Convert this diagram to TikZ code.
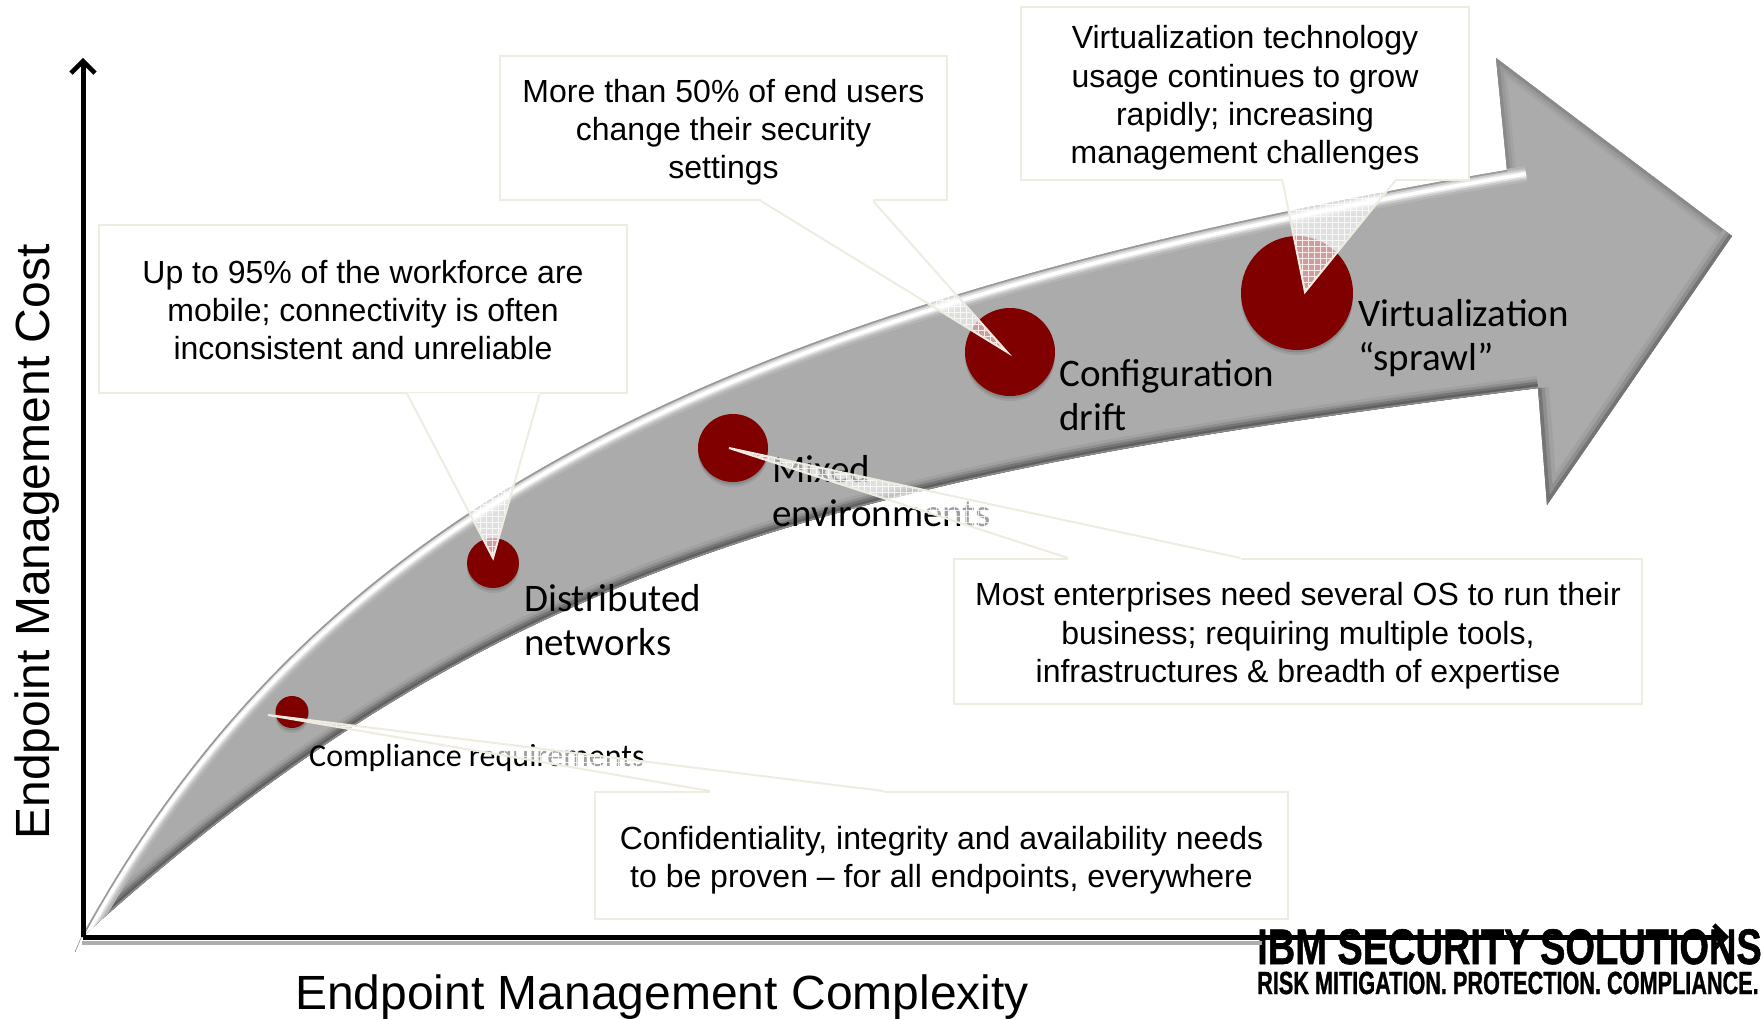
\documentclass[tikz,border=0pt]{standalone}
\usepackage{fontspec}
\setmainfont{Liberation Sans}[BoldFeatures={FakeBold=1.2}]
\newfontfamily\labfont{Carlito}
\usetikzlibrary{calc,arrows.meta}
\definecolor{redball}{HTML}{800000}
\definecolor{calloutline}{HTML}{EEECE1}
\newcommand{\lift}[1]{\rule{0pt}{#1pt}}
\tikzset{
  x=1pt,y=-1pt,
  upperedge/.style={insert path={(75,952) -- (81,938) .. controls (311,516) and (707,306) .. (1507,170)}},
  upperstripe/.style={insert path={(81,938) .. controls (311,516) and (707,306) .. (1507,170) -- (1526,167)}},
  loweredge/.style={insert path={(1538,388) .. controls (838,476) and (495,563) .. (81,938) -- (75,952)}},
  headupper/.style={insert path={(1507,170) -- (1496,58) -- (1732,236)}},
  headlower/.style={insert path={(1732,236) -- (1547,505) -- (1538,388)}},
  arrowshape/.style={insert path={(75,952) -- (81,938) .. controls (311,516) and (707,306) .. (1507,170) -- (1496,58) -- (1732,236) -- (1547,505) -- (1538,388) .. controls (838,476) and (495,563) .. (81,938) -- cycle}},
  callout/.style={draw=calloutline,line width=2pt,fill=white,inner sep=0pt,align=center,font=\fontsize{32}{38.3}\selectfont},
  wedgeedge/.style={draw=calloutline,line width=2pt,line join=miter},
  lab/.style={inner sep=0pt,anchor=base west,align=left,font=\labfont\fontsize{39}{43.5}\selectfont},
  axis/.style={line width=5pt,-{Straight Barb[length=12pt,width=24pt,line width=4.5pt]}},
  axislabel/.style={inner sep=0pt,font=\fontsize{48}{52}\selectfont}
}
\newcommand{\ballat}[5]{%
  \fill[black,opacity=.08] ($(#1,#2)+(0,5)$) ellipse[x radius=#3,y radius=#4];
  \fill[black,opacity=.12] ($(#1,#2)+(0,2.5)$) ellipse[x radius=#3,y radius=#4];
  \fill[redball] (#1,#2) ellipse[x radius=#3,y radius=#4];
  \coordinate (#5) at (#1,#2);
}
\newcommand{\pointer}[4]{%
  % #1 box, #2 tip, #3 base start, #4 base end
  \begin{scope}
    \clip (#3) -- (#2) -- (#4) -- cycle;
    \fill[white,opacity=.62] (#3) -- (#2) -- (#4) -- cycle;
    \draw[white,line width=.7pt,opacity=.8] (0,0) grid[step=6pt] (1764,1019);
  \end{scope}
  \draw[white,line width=3pt] (#3) -- (#4);
  \draw[wedgeedge] (#3) -- (#2) -- (#4);
}
\begin{document}
\begin{tikzpicture}
\useasboundingbox (0,0) rectangle (1764,1019);
% big arrow
\begin{scope}
  \clip[arrowshape];
  \fill[arrowshape,fill=black!33];
  % head bevel
  \draw[headupper,draw=black!36,line width=18pt];
  \draw[headupper,draw=black!40,line width=12pt];
  \draw[headupper,draw=black!46,line width=6pt];
  \draw[headlower,draw=black!37,line width=22pt];
  \draw[headlower,draw=black!44,line width=14pt];
  \draw[headlower,draw=black!54,line width=7pt];
  % lower edge
  \draw[loweredge,draw=black!37,line width=24pt];
  \draw[loweredge,draw=black!44,line width=18pt];
  \draw[loweredge,draw=black!54,line width=13pt];
  \draw[loweredge,draw=black!62,line width=8pt];
  \draw[loweredge,draw=black!45,line width=3pt];
  % upper highlight
  \begin{scope}[yshift=-7pt]
    \draw[upperstripe,draw=black!29,line width=16pt];
    \draw[upperstripe,draw=black!21,line width=11pt];
    \draw[upperstripe,draw=black!10,line width=7pt];
    \draw[upperstripe,draw=white,line width=3.6pt];
  \end{scope}
  \draw[upperedge,draw=black!40,line width=3pt];
\end{scope}
% logo
\node[inner sep=0pt,anchor=base west,font=\fontsize{50}{50}\selectfont\bfseries] (logoa) at (1257,964) {\scalebox{.76}[1]{IBM SECURITY SOLUTIONS}};
\node[inner sep=0pt,anchor=base west,font=\fontsize{32}{32}\selectfont\bfseries] (logob) at (1257,994) {\scalebox{.677}[1]{RISK MITIGATION. PROTECTION. COMPLIANCE.}};
% axes
\draw[black!32,line width=3.5pt] (82,943) -- (1262,943);
\coordinate (axo) at (83,937);
\coordinate (axy) at (83,58);
\coordinate (axx) at (1729,937);
\draw[axis] (axo) -- (axy);
\draw[axis] (axo) -- (axx);
\node[axislabel,rotate=90] (ylab) at (37,542) {Endpoint Management Cost};
\node[axislabel,anchor=base] (xlab) at (662,1009) {Endpoint Management Complexity};
% balls
\ballat{292}{712}{16.5}{16}{ba}
\ballat{493}{563}{26}{25}{bb}
\ballat{733}{448}{35}{34}{bc}
\ballat{1010}{352}{45}{44}{bd}
\ballat{1297}{293}{56}{57}{be}
% labels
\node[lab] (la) at (309,766) {\fontsize{32}{38}\selectfont Compliance requirements};
\node[lab] (lb) at (524,655) {Distributed\\networks};
\node[lab] (lc) at (772,526) {Mixed\\environments};
\node[lab] (ld) at (1059,430) {Configuration\\drift};
\node[lab] (le) at (1358,370) {Virtualization\\“sprawl”};
% tips
\coordinate (tipa) at (268,715);
\coordinate (tipb) at (493,558);
\coordinate (tipc) at (729,448);
\coordinate (tipd) at (1007,352);
\coordinate (tipe) at (1305,292);
% callouts: pointers
\node[callout,minimum width=528pt,minimum height=168pt] (ca) at (363,309) {\lift{25}Up to 95\% of the workforce are\\mobile; connectivity is often\\inconsistent and unreliable};
\coordinate (cap) at ($(ca.south west)!7/12!(ca.south east)$);
\coordinate (caq) at ($(ca.south west)!10/12!(ca.south east)$);
\pointer{ca}{tipb}{cap}{caq}
\node[callout,minimum width=447pt,minimum height=144pt] (cb) at (723.5,128) {\lift{32}More than 50\% of end users\\change their security\\settings};
\coordinate (cbp) at ($(cb.south west)!7/12!(cb.south east)$);
\coordinate (cbq) at ($(cb.south west)!10/12!(cb.south east)$);
\pointer{cb}{tipd}{cbp}{cbq}
\node[callout,minimum width=448pt,minimum height=173pt] (cc) at (1245,93.5) {\lift{32}Virtualization technology\\usage continues to grow\\rapidly; increasing\\management challenges};
\coordinate (ccp) at ($(cc.south west)!7/12!(cc.south east)$);
\coordinate (ccq) at ($(cc.south west)!10/12!(cc.south east)$);
\pointer{cc}{tipe}{ccp}{ccq}
\node[callout,minimum width=688pt,minimum height=145pt] (cd) at (1298,631.5) {\lift{32}Most enterprises need several OS to run their\\business; requiring multiple tools,\\infrastructures \& breadth of expertise};
\coordinate (cdp) at ($(cd.north west)!2/12!(cd.north east)$);
\coordinate (cdq) at ($(cd.north west)!5/12!(cd.north east)$);
\pointer{cd}{tipc}{cdp}{cdq}
\node[callout,minimum width=693pt,minimum height=127pt] (ce) at (941.5,855.5) {\lift{32}Confidentiality, integrity and availability needs\\to be proven – for all endpoints, everywhere};
\coordinate (cep) at ($(ce.north west)!2/12!(ce.north east)$);
\coordinate (ceq) at ($(ce.north west)!5/12!(ce.north east)$);
\pointer{ce}{tipa}{cep}{ceq}
\end{tikzpicture}
\end{document}
